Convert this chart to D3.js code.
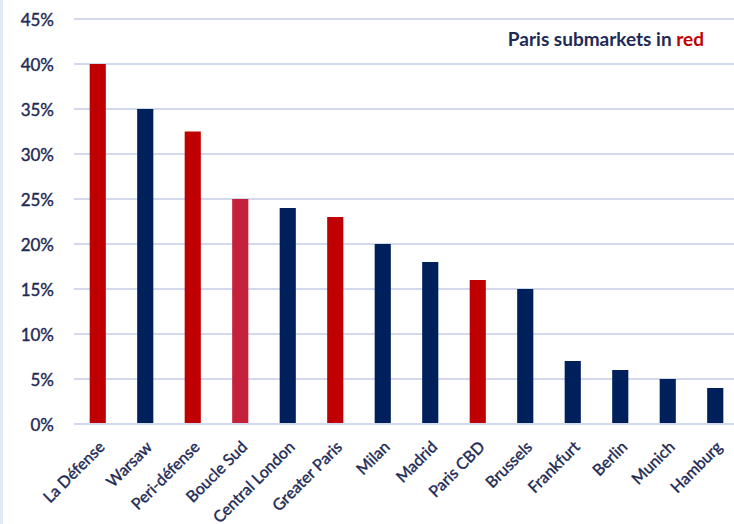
<!DOCTYPE html>
<html>
<head>
<meta charset="utf-8">
<script src="https://cdn.jsdelivr.net/npm/d3@7"></script>
<style>
  html, body { margin: 0; padding: 0; background: #ffffff; }
  svg { display: block; }
</style>
</head>
<body>
<svg id="chart" width="734" height="524"></svg>
<script>
// Office vacancy by market, Paris submarkets highlighted
const markets = ["La Défense", "Warsaw", "Peri-défense", "Boucle Sud", "Central London",
  "Greater Paris", "Milan", "Madrid", "Paris CBD", "Brussels", "Frankfurt", "Berlin",
  "Munich", "Hamburg"];
const values = [40, 35, 32.5, 25, 24, 23, 20, 18, 16, 15, 7, 6, 5, 4];
const groups = ["paris", "other", "paris", "paris-alt", "other", "paris", "other", "other",
  "paris", "other", "other", "other", "other", "other"];
const yTicks = [0, 5, 10, 15, 20, 25, 30, 35, 40, 45];

const palette = { "paris": "#c00000", "paris-alt": "#c5213a", "other": "#00205b" };
const textNavy = "#1e2a55";
const gridColor = "#d2d9ef";
const fontFamily = "Lato, 'Liberation Sans', sans-serif";

const W = 734, H = 524;
const svg = d3.select("#chart");

// left edge rule
svg.append("rect").attr("x", 0).attr("y", 0).attr("width", 3).attr("height", H)
  .attr("fill", "#dfe8f5");

const x = d3.scaleBand().domain(markets).range([74, 739]).paddingInner(0.66).paddingOuter(0.33);
const y = d3.scaleLinear().domain([0, 45]).range([424, 19]);

// gridlines
svg.append("g").selectAll("line").data(yTicks).join("line")
  .attr("x1", 74).attr("x2", W)
  .attr("y1", d => y(d)).attr("y2", d => y(d))
  .attr("stroke", gridColor).attr("stroke-width", 2);

// medium-weight look for the labels
function labelStyle(sel, size) {
  sel.attr("fill", textNavy).attr("font-family", fontFamily).attr("font-size", size)
    .attr("stroke", textNavy).attr("stroke-width", 0.4);
}

// y axis labels
const yAxis = d3.axisLeft(y).tickValues(yTicks).tickFormat(d => d + "%").tickSize(0).tickPadding(0);
const gy = svg.append("g").attr("transform", "translate(54,0)").call(yAxis);
gy.select(".domain").remove();
gy.selectAll("text").call(labelStyle, 17).attr("dy", "0.36em");

// bars
svg.append("g").selectAll("rect").data(markets).join("rect")
  .attr("x", d => x(d))
  .attr("width", x.bandwidth())
  .attr("y", (d, i) => y(values[i]))
  .attr("height", (d, i) => y(0) - y(values[i]))
  .attr("fill", (d, i) => palette[groups[i]]);

// baseline redrawn over the bars
svg.append("line").attr("x1", 74).attr("x2", W).attr("y1", y(0)).attr("y2", y(0))
  .attr("stroke", gridColor).attr("stroke-width", 2);

// x axis labels
const xAxis = d3.axisBottom(x).tickSize(0).tickPadding(0);
const gx = svg.append("g").attr("transform", `translate(0,${y(0)})`).call(xAxis);
gx.select(".domain").remove();
gx.selectAll("text").call(labelStyle, 16)
  .attr("text-anchor", "end")
  .attr("dy", 0)
  .attr("transform", "translate(8,24) rotate(-45)");

// legend note
const note = svg.append("text").attr("x", 704).attr("y", 46)
  .attr("text-anchor", "end").attr("font-family", fontFamily)
  .attr("font-weight", "bold").attr("font-size", 19).attr("fill", textNavy);
note.append("tspan").text("Paris submarkets in ");
note.append("tspan").attr("fill", "#c00000").text("red");
</script>
</body>
</html>
